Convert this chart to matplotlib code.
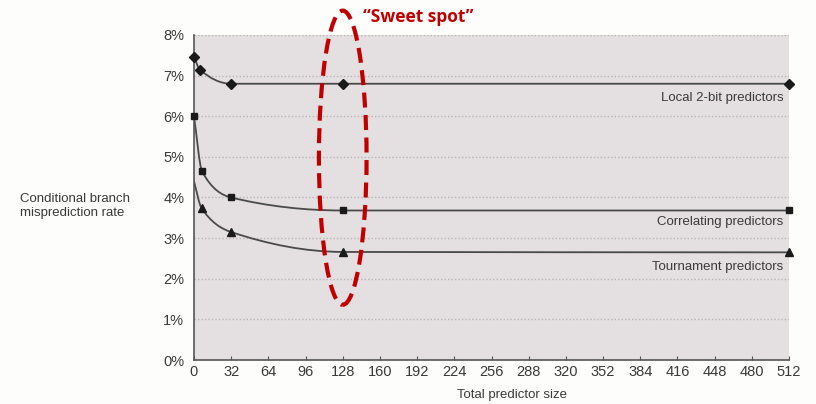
import matplotlib.pyplot as plt
from matplotlib.path import Path
from matplotlib.patches import PathPatch, Ellipse
import numpy as np

plt.rcParams['font.family'] = ['Liberation Sans', 'DejaVu Sans']

# misprediction rate (%) vs total predictor size
local_x = [0, 5, 32, 128, 512]
local_y = [7.47, 7.15, 6.8, 6.8, 6.8]

corr_x = [0, 7, 32, 128, 512]
corr_y = [6.0, 4.64, 4.0, 3.68, 3.68]

tourn_x = [0, 6.5, 32, 128, 512]
tourn_y = [4.4, 3.74, 3.15, 2.66, 2.65]
tourn_marks = [1, 2, 3, 4]   # first point is only where the curve starts

xticks = list(range(0, 513, 32))
yticks = list(range(0, 9))

names = ['Local 2-bit predictors', 'Correlating predictors', 'Tournament predictors']


def smooth_path(x, y):
    # monotone cubic (Fritsch-Carlson) tangents, turned into bezier segments
    x = np.asarray(x, float)
    y = np.asarray(y, float)
    h = np.diff(x)
    d = np.diff(y) / h
    m = np.zeros_like(y)
    for k in range(1, len(x) - 1):
        if d[k - 1] * d[k] > 0:
            w1 = 2 * h[k] + h[k - 1]
            w2 = h[k] + 2 * h[k - 1]
            m[k] = (w1 + w2) / (w1 / d[k - 1] + w2 / d[k])
    m[0] = d[0]
    m[-1] = d[-1]
    verts = [(x[0], y[0])]
    codes = [Path.MOVETO]
    for k in range(len(x) - 1):
        verts += [(x[k] + h[k] / 3, y[k] + m[k] * h[k] / 3),
                  (x[k + 1] - h[k] / 3, y[k + 1] - m[k + 1] * h[k] / 3),
                  (x[k + 1], y[k + 1])]
        codes += [Path.CURVE4] * 3
    return Path(verts, codes)


fig = plt.figure(figsize=(8.16, 4.04), dpi=100, facecolor='#fdfdfb')
ax = fig.add_axes([0.2377, 0.1089, 0.7293, 0.8045])
ax.set_facecolor('#e4e0e1')

for yv in yticks[1:]:
    ax.axhline(yv, color='#b9b5b6', lw=1.0, linestyle=(0, (1, 1.5)), zorder=1)

series = [(local_x, local_y, 'D', 5.0, range(5)),
          (corr_x, corr_y, 's', 5.0, range(5)),
          (tourn_x, tourn_y, '^', 6.0, tourn_marks)]

for x, y, mk, ms, marks in series:
    ax.add_patch(PathPatch(smooth_path(x, y), fill=False, edgecolor='#4a4a4a',
                           lw=1.3, zorder=2))
    ax.plot([x[i] for i in marks], [y[i] for i in marks], linestyle='none',
            marker=mk, ms=ms, color='#1a1a1a', zorder=3, clip_on=False)

label_y = [6.45, 3.40, 2.29]
for name, ly in zip(names, label_y):
    ax.text(507, ly, name, ha='right', va='center', fontsize=9.5, color='#3a3a3a')

ax.set_xlim(0, 512)
ax.set_ylim(0, 8)
ax.set_xticks(xticks)
ax.set_yticks(yticks)
ax.set_yticklabels([f'{v}%' for v in yticks])
ax.tick_params(direction='in', length=3, colors='#555555', labelcolor='#3a3a3a',
               labelsize=10.5)
ax.tick_params(axis='y', length=0, pad=7)

for side in ['top', 'right']:
    ax.spines[side].set_visible(False)
for side in ['left', 'bottom']:
    ax.spines[side].set_color('#555555')
    ax.spines[side].set_linewidth(1.2)

ax.set_xlabel('Total predictor size', fontsize=9.5, color='#3a3a3a', labelpad=8)
ax.xaxis.set_label_coords(0.535, -0.09)
fig.text(0.025, 0.49, 'Conditional branch\nmisprediction rate', ha='left',
         va='center', fontsize=9.5, color='#3a3a3a', linespacing=1.3)

# highlight around the 128 column
ax.add_patch(Ellipse((128, 4.98), 41, 7.24, fill=False, edgecolor='#c00000',
                     lw=3.0, linestyle=(0, (3.6, 1.8)), zorder=4, clip_on=False))
fig.text(0.445, 0.957, '\u201cSweet spot\u201d', fontsize=12.5, color='#c00000',
         fontweight='bold', family=['Open Sans', 'DejaVu Sans'], va='center')

fig.savefig('out.png', dpi=100, facecolor=fig.get_facecolor())
